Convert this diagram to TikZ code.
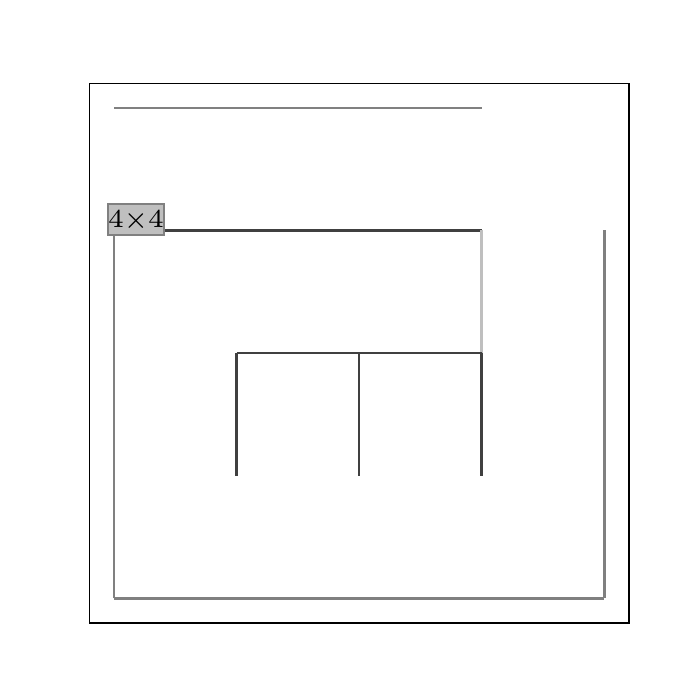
\documentclass[tikz,border=0pt]{standalone}
\usetikzlibrary{calc,math}

\tikzset{
  wall/.style={line width=0.6pt},
  sizelabel/.style={draw=gray, fill=black!25, line width=0.4pt,
    inner sep=0pt, minimum width=0.457cm, minimum height=0.253cm,
    font=\fontsize{6}{6}\selectfont},
}

\begin{document}
\begin{tikzpicture}
  \tikzmath{
    integer \n;
    \n = 4;
  }
  \useasboundingbox (-0.93,-0.83) rectangle (4.78,4.88);
  \draw[line width=0.4pt] (-0.2,-0.2) rectangle (4.2,4.2);
  % outer walls
  \foreach[evaluate={\i + 1} as \j] \i in {0,1,2} {
    \draw[wall, gray] (\i,\n) -- (\j,\n);
    \draw[wall, black!75] (\i,3) -- (\j,3);
  }
  \foreach[evaluate={\i + 1} as \j] \i in {0,1,2,3} {
    \draw[wall, gray] (\i,0) -- (\j,0);
  }
  \foreach[evaluate={\i + 1} as \j] \i in {0,1,2} {
    \draw[wall, gray] (0,\i) -- (0,\j);
    \draw[wall, gray] (\n,\i) -- (\n,\j);
  }
  \draw[wall, black!25] (3,2) -- (3,3);
  % inner walls
  \draw[wall, black!75] (1,2) -- (2,2) -- (3,2);
  \foreach \i in {1,2,3} {
    \draw[wall, black!75] (\i,1) -- (\i,2);
  }
  \node[sizelabel] (size) at (0.18,3.09) {4\texttimes4};
\end{tikzpicture}
\end{document}
